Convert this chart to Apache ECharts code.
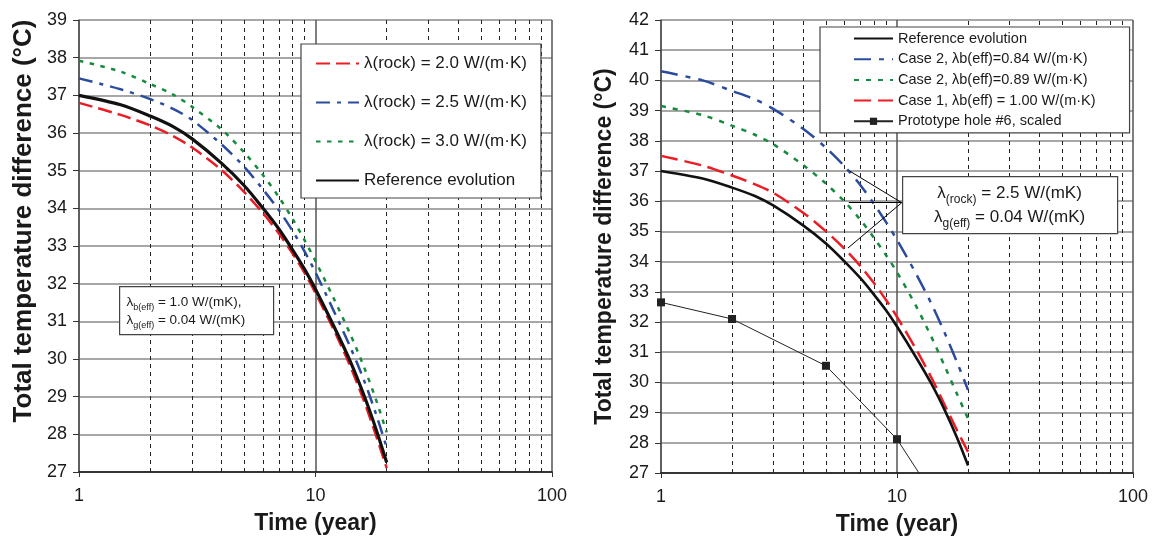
<!DOCTYPE html>
<html>
<head>
<meta charset="utf-8">
<script src="https://cdn.jsdelivr.net/npm/echarts@6/dist/echarts.min.js"></script>
<style>
  html, body { margin: 0; padding: 0; background: #fff; }
  #chart { width: 1160px; height: 543px; }
</style>
</head>
<body>
<div id="chart"></div>
<script>
// Time steps (years) at which the curves are sampled
const years = [1, 1.5, 2, 2.5, 3, 4, 5, 6, 7, 8, 9, 10, 12, 14, 16, 18, 20];

// Left panel: sensitivity to rock conductivity (°C)
const referenceEvolution = [37.0, 36.75, 36.45, 36.17, 35.85, 35.2, 34.6, 34.0, 33.45, 32.9, 32.38, 31.85, 30.85, 29.95, 29.05, 28.15, 27.25];
const rock20 = [36.8, 36.48, 36.2, 35.92, 35.62, 35.02, 34.43, 33.87, 33.33, 32.8, 32.28, 31.75, 30.75, 29.82, 28.9, 27.98, 27.1];
const rock25 = [37.45, 37.16, 36.9, 36.64, 36.35, 35.7, 35.1, 34.5, 33.95, 33.4, 32.85, 32.3, 31.25, 30.33, 29.45, 28.55, 27.65];
const rock30 = [37.92, 37.63, 37.3, 37.02, 36.7, 36.1, 35.48, 34.88, 34.3, 33.72, 33.15, 32.6, 31.58, 30.67, 29.8, 28.93, 28.05];

// Right panel: buffer conductivity cases (°C)
const case2b084 = [40.3, 40.0, 39.65, 39.37, 39.05, 38.4, 37.77, 37.15, 36.53, 35.9, 35.3, 34.72, 33.62, 32.6, 31.6, 30.65, 29.75];
const case2b089 = [39.15, 38.85, 38.5, 38.2, 37.88, 37.2, 36.58, 35.98, 35.38, 34.78, 34.2, 33.65, 32.55, 31.5, 30.5, 29.6, 28.8];
const case1b100 = [37.5, 37.18, 36.85, 36.56, 36.27, 35.62, 35.0, 34.42, 33.85, 33.28, 32.72, 32.17, 31.12, 30.15, 29.22, 28.4, 27.7];

// Prototype hole #6 measurements (scaled)
const protoYears = [1, 2, 5, 10, 20];
const protoValues = [32.65, 32.1, 30.55, 28.12, 24.5];

// Minor log-scale gridline positions
const minorTicks = [2, 3, 4, 5, 6, 7, 8, 9, 20, 30, 40, 50, 60, 70, 80, 90];

// Arrows from the λ annotation to the three cases: [fromYear, fromT, toYear, toT]
const arrowLines = [
  [10.47, 35.95, 6.3, 37.0],
  [10.47, 35.95, 6.25, 35.95],
  [10.47, 35.95, 6.2, 34.45]
];

const legendLeftNames = ['λ(rock) = 2.0 W/(m·K)', 'λ(rock) = 2.5 W/(m·K)', 'λ(rock) = 3.0 W/(m·K)', 'Reference evolution'];
const legendRightNames = ['Reference evolution', 'Case 2, λb(eff)=0.84 W/(m·K)', 'Case 2, λb(eff)=0.89 W/(m·K)', 'Case 1, λb(eff) = 1.00 W/(m·K)', 'Prototype hole #6, scaled'];

const RED = '#ec1c24';
const BLUE = '#2b4c9e';
const GREEN = '#168a3e';
const BLACK = '#111111';
const FONT = '"Liberation Sans", Arial, sans-serif';

const pair = (xs, ys) => xs.map((x, i) => [x, ys[i]]);

// Line-only legend entries (no marker dot); the prototype keeps its square
const lineOnly = name => ({ name, itemStyle: { opacity: 0 } });

function xAxisFor(gridIndex) {
  return {
    type: 'log', logBase: 10, min: 1, max: 100, gridIndex,
    name: 'Time (year)', nameLocation: 'middle', nameGap: 40,
    nameTextStyle: { fontFamily: FONT, fontSize: 23, fontWeight: 'bold', color: '#1a1a1a' },
    axisLine: { lineStyle: { color: '#111', width: 1.5 } },
    axisTick: { show: true, length: 5, lineStyle: { color: '#333' } },
    axisLabel: { fontFamily: FONT, fontSize: 18, color: '#1a1a1a', margin: 15 },
    splitLine: { show: true, lineStyle: { color: '#555', width: 1.5 } },
    minorTick: { show: false }
  };
}

function yAxisFor(gridIndex, max, titleSize, gap, shift) {
  return {
    type: 'value', min: 27, max, interval: 1, gridIndex,
    name: 'Total temperature difference (°C)', nameLocation: 'middle', nameGap: gap, nameRotate: 90,
    nameTextStyle: { fontFamily: FONT, fontSize: titleSize, fontWeight: 'bold', color: '#1a1a1a', padding: [0, 0, 0, shift] },
    axisLine: { show: true, lineStyle: { color: '#555', width: 1.5 } },
    axisTick: { show: true, length: 6, lineStyle: { color: '#333' } },
    axisLabel: { fontFamily: FONT, fontSize: 18, color: '#1a1a1a', margin: 12 },
    splitLine: { show: true, lineStyle: { color: '#8a8a8a', width: 1.5 } }
  };
}

function curve(name, data, color, dash, width, axis) {
  return {
    name, type: 'line', xAxisIndex: axis, yAxisIndex: axis,
    data: pair(years, data), showSymbol: false, symbol: 'circle', symbolSize: 0,
    smooth: 0.3, z: 3,
    lineStyle: { color, width, type: dash, cap: 'butt' },
    itemStyle: { color }
  };
}

function minorGrid(axis) {
  return {
    name: 'minor-grid-' + axis, type: 'line', xAxisIndex: axis, yAxisIndex: axis,
    data: [], silent: true, z: 1,
    markLine: {
      silent: true, symbol: 'none', z: 1, animation: false,
      label: { show: false },
      lineStyle: { color: '#222', width: 1, type: [4, 4] },
      emphasis: { disabled: true },
      data: minorTicks.map(v => ({ xAxis: v }))
    }
  };
}

const option = {
  animation: false,
  backgroundColor: '#ffffff',
  textStyle: { fontFamily: FONT },
  grid: [
    { left: 79, top: 20, width: 473, height: 452 },
    { left: 661, top: 20, width: 472, height: 453 }
  ],
  xAxis: [xAxisFor(0), xAxisFor(1)],
  yAxis: [yAxisFor(0, 39, 26, 42, 50), yAxisFor(1, 42, 23, 45, 0)],
  legend: [
    {
      data: legendLeftNames.map(lineOnly), orient: 'vertical', left: 301, top: 44,
      itemWidth: 43, itemHeight: 17, itemGap: 22,
      padding: [11, 14, 9, 14],
      backgroundColor: '#fff', borderColor: '#444', borderWidth: 1.2,
      selectedMode: false, z: 10,
      textStyle: { fontFamily: FONT, fontSize: 17, color: '#1a1a1a' }
    },
    {
      data: legendRightNames.map((n, i) => i === legendRightNames.length - 1 ? { name: n } : lineOnly(n)),
      orient: 'vertical', left: 820, top: 27,
      itemWidth: 39, itemHeight: 9, itemGap: 5.7,
      padding: [4, 34, 4, 33],
      backgroundColor: '#fff', borderColor: '#444', borderWidth: 1.2,
      selectedMode: false, z: 10,
      textStyle: { fontFamily: FONT, fontSize: 14.5, color: '#1a1a1a' }
    }
  ],
  series: [
    minorGrid(0),
    minorGrid(1),
    curve('λ(rock) = 2.0 W/(m·K)', rock20, RED, [14, 6], 2.5, 0),
    curve('λ(rock) = 2.5 W/(m·K)', rock25, BLUE, [14, 7, 4, 7], 2.5, 0),
    curve('λ(rock) = 3.0 W/(m·K)', rock30, GREEN, [4.5, 6.5], 2.5, 0),
    curve('Reference evolution', referenceEvolution, BLACK, 'solid', 3.2, 0),
    curve('Case 2, λb(eff)=0.84 W/(m·K)', case2b084, BLUE, [17, 8, 5, 8], 2.5, 1),
    curve('Case 2, λb(eff)=0.89 W/(m·K)', case2b089, GREEN, [5, 7], 2.5, 1),
    curve('Case 1, λb(eff) = 1.00 W/(m·K)', case1b100, RED, [17, 7], 2.5, 1),
    Object.assign(curve('Reference evolution', referenceEvolution, BLACK, 'solid', 2.6, 1), {
      markLine: {
        silent: true, z: 6, animation: false,
        symbol: ['none', 'arrow'], symbolSize: [0, 10],
        label: { show: false },
        lineStyle: { color: '#000', width: 1, type: 'solid' },
        emphasis: { disabled: true },
        data: arrowLines.map(a => [{ coord: [a[0], a[1]] }, { coord: [a[2], a[3]] }])
      }
    }),
    {
      name: 'Prototype hole #6, scaled', type: 'line', xAxisIndex: 1, yAxisIndex: 1,
      data: pair(protoYears, protoValues), clip: true, z: 4,
      symbol: 'rect', symbolSize: 8, showSymbol: true,
      lineStyle: { color: '#222', width: 1 },
      itemStyle: { color: '#222' }
    }
  ],
  graphic: [
    {
      type: 'group', left: 119, top: 286, z: 20,
      children: [
        { type: 'rect', z: 20, shape: { x: 0, y: 0, width: 154, height: 48 },
          style: { fill: '#fff', stroke: '#444', lineWidth: 1.2 } },
        { type: 'text', z: 21, x: 7, y: 7,
          style: {
            text: '{m|λ}{s|b(eff)}{m| = 1.0 W/(mK),}\n{m|λ}{s|g(eff)}{m| = 0.04 W/(mK)}',
            fill: '#1a1a1a', font: '13.5px ' + FONT,
            rich: {
              m: { fontSize: 13.5, fontFamily: FONT, lineHeight: 18, verticalAlign: 'middle', fill: '#1a1a1a' },
              s: { fontSize: 9, fontFamily: FONT, lineHeight: 11, verticalAlign: 'bottom', fill: '#1a1a1a' }
            }
          } }
      ]
    },
    {
      type: 'group', left: 902, top: 176, z: 20,
      children: [
        { type: 'rect', z: 20, shape: { x: 0, y: 0, width: 215, height: 57 },
          style: { fill: '#fff', stroke: '#444', lineWidth: 1.2 } },
        { type: 'text', z: 21, x: 107, y: 5,
          style: {
            text: '{m|λ}{s|(rock)}{m| = 2.5 W/(mK)}\n{m|λ}{s|g(eff)}{m| = 0.04 W/(mK)}',
            align: 'center', fill: '#1a1a1a', font: '17px ' + FONT,
            rich: {
              m: { fontSize: 17, fontFamily: FONT, lineHeight: 24, verticalAlign: 'middle', fill: '#1a1a1a' },
              s: { fontSize: 12, fontFamily: FONT, lineHeight: 15, verticalAlign: 'bottom', fill: '#1a1a1a' }
            }
          } }
      ]
    }
  ]
};

const chart = echarts.init(document.getElementById('chart'), null, { renderer: 'canvas' });
chart.setOption(option);
</script>
</body>
</html>
